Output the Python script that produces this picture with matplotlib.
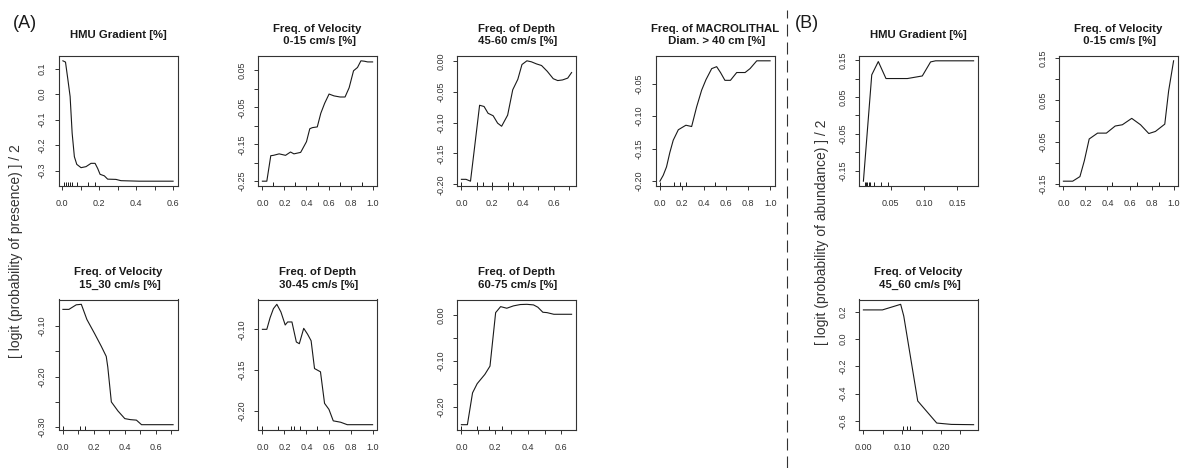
import matplotlib
matplotlib.use("Agg")
import matplotlib.pyplot as plt

plt.rcParams['font.family'] = ['Liberation Sans', 'DejaVu Sans']

W, H = 1181, 468
INK = '#1a1a1a'

# ---- (A) presence model: partial dependence curves ----
grad_x = [0.004, 0.018, 0.031, 0.043, 0.054, 0.066, 0.079, 0.102, 0.129, 0.156, 0.178,
          0.192, 0.205, 0.228, 0.246, 0.291, 0.318, 0.417, 0.6]
grad_y = [0.131, 0.126, 0.057, -0.009, -0.153, -0.245, -0.275, -0.288, -0.284, -0.271,
          -0.271, -0.291, -0.314, -0.32, -0.333, -0.334, -0.339, -0.341, -0.341]
grad_rug = [0.009, 0.022, 0.034, 0.043, 0.054, 0.079, 0.138, 0.178]

vel015_x = [0.0, 0.04, 0.076, 0.10, 0.152, 0.21, 0.255, 0.286, 0.347, 0.36, 0.40, 0.43,
            0.453, 0.498, 0.53, 0.565, 0.605, 0.65, 0.705, 0.75, 0.787, 0.827, 0.863,
            0.894, 0.924, 0.955, 1.0]
vel015_y = [-0.25, -0.25, -0.181, -0.180, -0.176, -0.18, -0.171, -0.176, -0.172, -0.165,
            -0.143, -0.108, -0.105, -0.103, -0.066, -0.039, -0.014, -0.019, -0.022,
            -0.022, 0.003, 0.049, 0.058, 0.076, 0.075, 0.073, 0.073]
vel015_rug = [0.1, 0.3, 0.5, 0.7, 0.9]

dep4560_x = [0.0, 0.03, 0.059, 0.086, 0.118, 0.147, 0.173, 0.206, 0.235, 0.261, 0.30,
             0.333, 0.366, 0.393, 0.425, 0.454, 0.487, 0.52, 0.557, 0.596, 0.625, 0.656,
             0.69, 0.715]
dep4560_y = [-0.192, -0.192, -0.195, -0.139, -0.072, -0.074, -0.085, -0.089, -0.101,
             -0.106, -0.088, -0.047, -0.030, -0.006, 0.0, -0.0016, -0.005, -0.0076,
             -0.017, -0.029, -0.032, -0.031, -0.028, -0.019]
dep4560_rug = [0.0, 0.1, 0.143, 0.2, 0.3, 0.333]

macro_x = [0.0, 0.03, 0.06, 0.09, 0.121, 0.167, 0.206, 0.236, 0.288, 0.333, 0.379, 0.418,
           0.47, 0.515, 0.55, 0.59, 0.64, 0.697, 0.773, 0.818, 0.879, 0.94, 1.0]
macro_y = [-0.20, -0.191, -0.178, -0.156, -0.137, -0.121, -0.117, -0.114, -0.116, -0.086,
           -0.060, -0.044, -0.027, -0.024, -0.033, -0.045, -0.045, -0.033, -0.033,
           -0.027, -0.015, -0.015, -0.015]
macro_rug = [0.0, 0.124, 0.18, 0.24, 0.5]

vel1530_x = [0.0, 0.039, 0.086, 0.119, 0.155, 0.205, 0.248, 0.28, 0.29, 0.313, 0.356,
             0.40, 0.436, 0.475, 0.508, 0.712]
vel1530_y = [-0.067, -0.067, -0.058, -0.057, -0.087, -0.115, -0.140, -0.16, -0.181,
             -0.250, -0.268, -0.283, -0.285, -0.286, -0.295, -0.295]
vel1530_rug = [0.0, 0.108, 0.14]

dep3045_x = [0.0, 0.04, 0.07, 0.10, 0.131, 0.168, 0.207, 0.229, 0.268, 0.308, 0.335,
             0.375, 0.41, 0.442, 0.473, 0.527, 0.564, 0.604, 0.643, 0.71, 0.77, 1.0]
dep3045_y = [-0.10, -0.10, -0.0857, -0.0747, -0.0694, -0.0788, -0.0947, -0.091, -0.091,
             -0.1155, -0.1176, -0.0988, -0.106, -0.114, -0.148, -0.152, -0.1906, -0.198,
             -0.212, -0.2137, -0.2167, -0.2167]
dep3045_rug = [0.0, 0.146, 0.259, 0.284, 0.345, 0.497]

dep6075_x = [0.0, 0.036, 0.067, 0.095, 0.141, 0.172, 0.206, 0.236, 0.273, 0.313, 0.354,
             0.394, 0.434, 0.46, 0.49, 0.515, 0.556, 0.663]
dep6075_y = [-0.238, -0.238, -0.169, -0.149, -0.129, -0.111, 0.005, 0.018, 0.0145, 0.0196,
             0.0225, 0.023, 0.0217, 0.0167, 0.0058, 0.005, 0.0014, 0.0014]
dep6075_rug = [0.0, 0.095, 0.168, 0.242]

# ---- (B) abundance model ----
bgrad_x = [0.0085, 0.0211, 0.031, 0.0426, 0.075, 0.0975, 0.11, 0.1175, 0.175]
bgrad_y = [-0.178, 0.11, 0.146, 0.10, 0.10, 0.107, 0.145, 0.148, 0.148]
bgrad_rug = [0.0105, 0.0125, 0.0145, 0.0165, 0.019, 0.024, 0.035, 0.045]

bvel015_x = [0.0, 0.084, 0.15, 0.19, 0.234, 0.31, 0.39, 0.47, 0.535, 0.62, 0.70, 0.775,
             0.835, 0.92, 0.955, 1.0]
bvel015_y = [-0.144, -0.144, -0.133, -0.095, -0.043, -0.029, -0.029, -0.012, -0.009,
             0.0063, -0.009, -0.030, -0.025, -0.0075, 0.072, 0.144]
bvel015_rug = [0.44, 0.67, 0.865]

bvel4560_x = [0.0, 0.049, 0.096, 0.104, 0.14, 0.189, 0.227, 0.284]
bvel4560_y = [0.215, 0.215, 0.256, 0.17, -0.453, -0.615, -0.625, -0.627]
bvel4560_rug = [0.103, 0.113, 0.119]


def steps(a, b, d):
    n = int(round((b - a) / d))
    return [round(a + i * d, 4) for i in range(n + 1)]


def panel(fig, left, top, title, x, y, rug, xt, xl, yt, yl):
    ax = fig.add_axes([left / W, 1 - (top + 130) / H, 119 / W, 130 / H])
    ax.plot(x, y, color=INK, lw=0.8)
    ax.vlines(rug, 0, 0.03, transform=ax.get_xaxis_transform(), color=INK, lw=0.7)
    xr = max(x) - min(x)
    yr = max(y) - min(y)
    ax.set_xlim(min(x) - 0.04 * xr, max(x) + 0.04 * xr)
    ax.set_ylim(min(y) - 0.04 * yr, max(y) + 0.04 * yr)
    ax.set_xticks(xt)
    ax.set_xticklabels(xl)
    ax.set_yticks(yt)
    ax.set_yticklabels(yl, rotation=90, va='center')
    ax.tick_params(direction='out', length=3, width=0.7, pad=5.5, labelsize=6.5,
                   colors='#333333', labelcolor='#333333')
    ax.tick_params(axis='x', pad=6.5)
    for s in ax.spines.values():
        s.set_linewidth(0.8)
        s.set_color('#333333')
    ax.text(0.5, 1 + 21 / 130, title, transform=ax.transAxes, ha='center', va='center',
            fontsize=8.2, fontweight='bold', linespacing=1.3, color=INK)
    return ax


fig = plt.figure(figsize=(W / 100, H / 100), dpi=100)

e01 = ['0.0', '', '0.2', '', '0.4', '', '0.6']
e07 = ['0.0', '', '0.2', '', '0.4', '', '0.6', '']
all02 = ['0.0', '0.2', '0.4', '0.6', '0.8', '1.0']
b15 = ['0.15', '', '0.05', '', '-0.05', '', '-0.15']

panel(fig, 58.5, 56, 'HMU Gradient [%]', grad_x, grad_y, grad_rug,
      steps(0, 0.6, 0.1), e01, [0.1, 0.0, -0.1, -0.2, -0.3],
      ['0.1', '0.0', '-0.1', '-0.2', '-0.3'])
panel(fig, 258, 56, 'Freq. of Velocity\n 0-15 cm/s [%]', vel015_x, vel015_y, vel015_rug,
      steps(0, 1, 0.2), all02, steps(-0.25, 0.05, 0.05)[::-1],
      ['0.05', '', '-0.05', '', '-0.15', '', '-0.25'])
panel(fig, 457, 56, 'Freq. of Depth\n 45-60 cm/s [%]', dep4560_x, dep4560_y, dep4560_rug,
      steps(0, 0.7, 0.1), e07, steps(-0.2, 0.0, 0.05)[::-1],
      ['0.00', '-0.05', '-0.10', '-0.15', '-0.20'])
panel(fig, 655.5, 56, 'Freq. of MACROLITHAL\n Diam. > 40 cm [%]', macro_x, macro_y, macro_rug,
      steps(0, 1, 0.2), all02, [-0.05, -0.10, -0.15, -0.20],
      ['-0.05', '-0.10', '-0.15', '-0.20'])
panel(fig, 859, 56, 'HMU Gradient [%]', bgrad_x, bgrad_y, bgrad_rug,
      [0.05, 0.10, 0.15], ['0.05', '0.10', '0.15'], steps(-0.15, 0.15, 0.05)[::-1], b15)
panel(fig, 1059, 56, 'Freq. of Velocity\n 0-15 cm/s [%]', bvel015_x, bvel015_y, bvel015_rug,
      steps(0, 1, 0.2), all02, steps(-0.15, 0.15, 0.05)[::-1], b15)

panel(fig, 58.5, 299.5, 'Freq. of Velocity\n 15_30 cm/s [%]', vel1530_x, vel1530_y,
      vel1530_rug, steps(0, 0.7, 0.1), e07, steps(-0.3, -0.1, 0.05)[::-1],
      ['-0.10', '', '-0.20', '', '-0.30'])
panel(fig, 258, 299.5, 'Freq. of Depth\n 30-45 cm/s [%]', dep3045_x, dep3045_y, dep3045_rug,
      steps(0, 1, 0.2), all02, [-0.10, -0.15, -0.20], ['-0.10', '-0.15', '-0.20'])
panel(fig, 457, 299.5, 'Freq. of Depth\n 60-75 cm/s [%]', dep6075_x, dep6075_y, dep6075_rug,
      steps(0, 0.6, 0.1), e01, steps(-0.2, 0.0, 0.05)[::-1],
      ['0.00', '', '-0.10', '', '-0.20'])
panel(fig, 859, 299.5, 'Freq. of Velocity\n 45_60 cm/s [%]', bvel4560_x, bvel4560_y,
      bvel4560_rug, steps(0, 0.25, 0.05), ['0.00', '', '0.10', '', '0.20', ''],
      [0.2, 0.0, -0.2, -0.4, -0.6], ['0.2', '0.0', '-0.2', '-0.4', '-0.6'])

# shared axis titles and section tags
fig.text(16 / W, 1 - 251 / H, '[ logit (probability of presence) ] / 2', rotation=90,
         ha='center', va='center', fontsize=10, color='#333333')
fig.text(822 / W, 1 - 232 / H, '[ logit (probability of abundance) ] / 2', rotation=90,
         ha='center', va='center', fontsize=10, color='#333333')
fig.text(25 / W, 1 - 23 / H, '(A)', ha='center', va='center', fontsize=13, color=INK)
fig.text(807 / W, 1 - 23 / H, '(B)', ha='center', va='center', fontsize=13, color=INK)

# dashed separator between the two models
fig.add_artist(plt.Line2D([787 / W, 787 / W], [0, 1 - 10 / H], transform=fig.transFigure,
                          color='#333333', lw=0.8, dashes=(10.8, 5.4)))

fig.savefig('out.png', dpi=100)
